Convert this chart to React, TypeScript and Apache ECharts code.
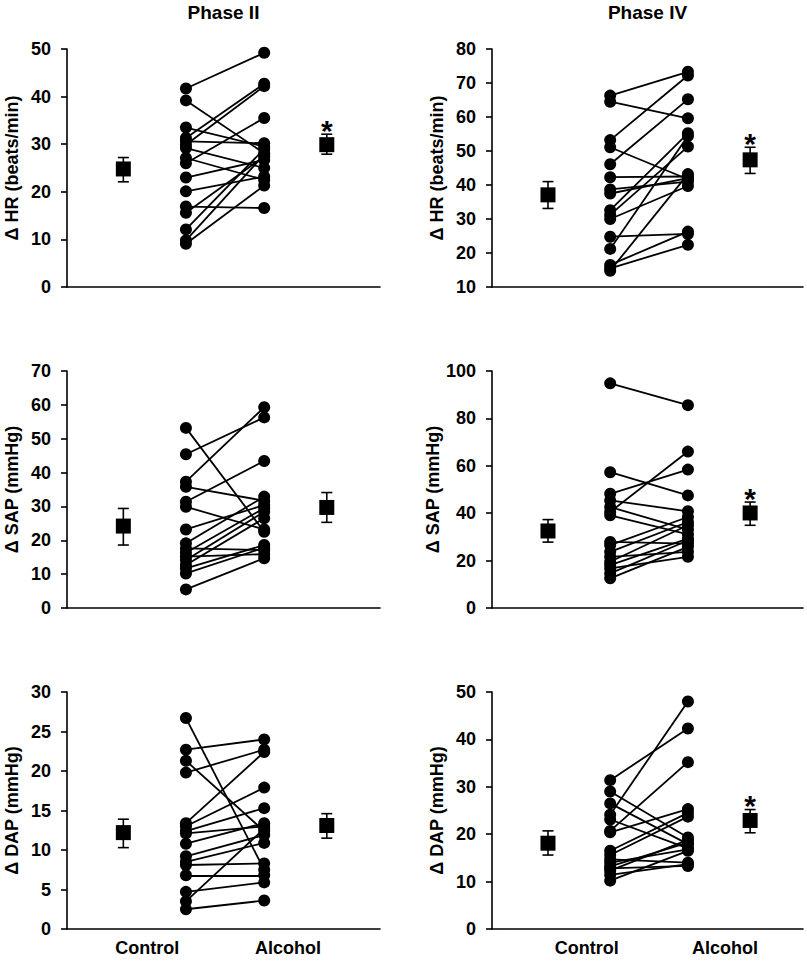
import React, { useEffect, useRef } from 'react';
import * as echarts from 'echarts';

// ---- Data (paired: control[i] -> alcohol[i]) ----
const hrP2Control = [41.7, 39.2, 33.5, 31.3, 30.6, 29.9, 29.2, 27.1, 26.0, 23.0, 20.1, 16.9, 15.6, 12.1, 9.8, 9.1];
const hrP2Alcohol = [49.2, 28.1, 29.5, 42.7, 30.2, 42.2, 25.0, 22.5, 35.5, 26.7, 23.2, 16.6, 27.4, 29.0, 27.8, 21.3];
const hrP4Control = [66.3, 64.5, 53.2, 51.1, 46.1, 42.3, 38.7, 37.5, 32.6, 31.2, 30.0, 24.8, 21.2, 16.5, 15.5, 14.8];
const hrP4Alcohol = [73.3, 59.6, 72.2, 41.7, 65.2, 42.5, 41.0, 42.0, 55.2, 51.3, 39.7, 25.6, 54.4, 26.3, 22.4, 43.2];
const sapP2Control = [53.2, 45.4, 37.3, 35.8, 31.4, 29.9, 23.2, 19.1, 17.6, 16.3, 15.2, 14.2, 12.7, 11.7, 10.2, 5.5];
const sapP2Alcohol = [22.5, 56.3, 59.3, 31.7, 43.4, 23.2, 30.4, 32.9, 17.1, 29.5, 15.9, 28.4, 26.5, 18.6, 17.8, 14.7];
const sapP4Control = [94.8, 57.3, 48.2, 45.4, 42.6, 40.5, 39.1, 27.9, 26.5, 23.7, 21.6, 19.5, 18.1, 16.7, 14.6, 12.5];
const sapP4Alcohol = [85.6, 47.5, 58.4, 40.8, 33.1, 66.0, 31.1, 27.2, 38.4, 36.3, 23.7, 34.9, 29.3, 21.6, 28.5, 25.8];
const dapP2Control = [26.7, 22.7, 21.3, 19.8, 13.4, 13.0, 12.4, 12.1, 10.8, 9.2, 8.5, 8.1, 6.8, 4.7, 3.5, 2.5];
const dapP2Alcohol = [7.5, 24.0, 12.4, 22.7, 22.4, 17.9, 15.3, 13.0, 13.4, 11.9, 10.9, 8.3, 6.8, 5.9, 12.7, 3.6];
const dapP4Control = [31.4, 29.0, 26.5, 24.1, 23.1, 20.7, 20.4, 16.5, 15.6, 14.7, 14.0, 13.2, 12.8, 12.3, 11.4, 10.2];
const dapP4Alcohol = [42.3, 19.3, 17.9, 48.0, 17.0, 35.2, 25.3, 24.5, 23.7, 14.0, 16.8, 18.2, 13.3, 18.8, 13.7, 16.5];

// mean, lower and upper error limits: [control, alcohol]
const hrP2Mean = [24.8, 29.9]; const hrP2Lo = [22.1, 27.9]; const hrP2Hi = [27.2, 32.1]; const hrP2Star = [false, true];
const hrP4Mean = [37.1, 47.4]; const hrP4Lo = [33.1, 43.4]; const hrP4Hi = [41.0, 51.1]; const hrP4Star = [false, true];
const sapP2Mean = [24.2, 29.7]; const sapP2Lo = [18.6, 25.3]; const sapP2Hi = [29.4, 34.1]; const sapP2Star = [false, false];
const sapP4Mean = [32.5, 40.1]; const sapP4Lo = [27.8, 34.9]; const sapP4Hi = [37.3, 44.7]; const sapP4Star = [false, true];
const dapP2Mean = [12.2, 13.1]; const dapP2Lo = [10.3, 11.5]; const dapP2Hi = [13.9, 14.6]; const dapP2Star = [false, false];
const dapP4Mean = [18.1, 22.9]; const dapP4Lo = [15.6, 20.3]; const dapP4Hi = [20.7, 25.2]; const dapP4Star = [false, true];

const titles = ['Phase II', 'Phase IV'];
const groupLabels = ['Control', 'Alcohol'];
const yNames = ['Δ HR (beats/min)', 'Δ SAP (mmHg)', 'Δ DAP (mmHg)'];

// ---- Layout ----
const X = { ctrlMean: 18, ctrl: 38, alc: 63, alcMean: 83 };
const FONT = 'Liberation Sans, Arial, Helvetica, sans-serif';
const grids = [
  { left: 67, top: 49, width: 313, height: 238 },
  { left: 492, top: 49, width: 311, height: 238 },
  { left: 67, top: 371, width: 313, height: 237 },
  { left: 492, top: 371, width: 311, height: 237 },
  { left: 67, top: 692, width: 313, height: 237 },
  { left: 492, top: 692, width: 311, height: 237 },
];
const labelX = [[25.6, 70.6], [30.5, 74.9]];

const panels = [
  { c: hrP2Control, a: hrP2Alcohol, m: hrP2Mean, lo: hrP2Lo, hi: hrP2Hi, s: hrP2Star, min: 0, max: 50, iv: 10, name: yNames[0] },
  { c: hrP4Control, a: hrP4Alcohol, m: hrP4Mean, lo: hrP4Lo, hi: hrP4Hi, s: hrP4Star, min: 10, max: 80, iv: 10, name: yNames[0] },
  { c: sapP2Control, a: sapP2Alcohol, m: sapP2Mean, lo: sapP2Lo, hi: sapP2Hi, s: sapP2Star, min: 0, max: 70, iv: 10, name: yNames[1] },
  { c: sapP4Control, a: sapP4Alcohol, m: sapP4Mean, lo: sapP4Lo, hi: sapP4Hi, s: sapP4Star, min: 0, max: 100, iv: 20, name: yNames[1] },
  { c: dapP2Control, a: dapP2Alcohol, m: dapP2Mean, lo: dapP2Lo, hi: dapP2Hi, s: dapP2Star, min: 0, max: 30, iv: 5, name: yNames[2] },
  { c: dapP4Control, a: dapP4Alcohol, m: dapP4Mean, lo: dapP4Lo, hi: dapP4Hi, s: dapP4Star, min: 0, max: 50, iv: 10, name: yNames[2] },
];

function buildOption() {
  const axisLine = { show: true, onZero: false, lineStyle: { color: '#000', width: 1.6 } };
  const xAxis: any[] = [];
  const yAxis: any[] = [];
  const series: any[] = [];
  panels.forEach((p, i) => {
    const col = i % 2;
    const bottom = i >= 4;
    xAxis.push({
      type: 'value', gridIndex: i, min: 0, max: 100,
      axisLine, axisTick: { show: false }, splitLine: { show: false },
      axisLabel: bottom
        ? {
            show: true, customValues: labelX[col], margin: 10,
            formatter: (v: number) => (v === labelX[col][0] ? groupLabels[0] : groupLabels[1]),
            color: '#000', fontSize: 18, fontWeight: 'bold', fontFamily: FONT,
          }
        : { show: false },
    });
    yAxis.push({
      type: 'value', gridIndex: i, min: p.min, max: p.max, interval: p.iv,
      axisLine, splitLine: { show: false },
      axisTick: { show: true, length: 6, lineStyle: { color: '#000', width: 1.6 } },
      axisLabel: { color: '#000', fontSize: 18, fontWeight: 'bold', fontFamily: FONT, margin: 16 },
      name: p.name, nameLocation: 'middle', nameRotate: 90, nameGap: 46,
      nameTextStyle: { color: '#000', fontSize: 18, fontWeight: 'bold', fontFamily: FONT },
    });
    series.push({
      type: 'lines', coordinateSystem: 'cartesian2d', xAxisIndex: i, yAxisIndex: i, z: 2,
      lineStyle: { color: '#000', width: 1.8, opacity: 1 },
      data: p.c.map((v, k) => ({ coords: [[X.ctrl, v], [X.alc, p.a[k]]] })),
      silent: true,
    });
    series.push({
      type: 'scatter', xAxisIndex: i, yAxisIndex: i, z: 3, symbol: 'circle', symbolSize: 12,
      itemStyle: { color: '#000', opacity: 1 },
      data: [...p.c.map((v) => [X.ctrl, v]), ...p.a.map((v) => [X.alc, v])],
    });
    series.push({
      type: 'custom', xAxisIndex: i, yAxisIndex: i, z: 4,
      data: [
        [X.ctrlMean, p.m[0], p.lo[0], p.hi[0], p.s[0] ? 1 : 0],
        [X.alcMean, p.m[1], p.lo[1], p.hi[1], p.s[1] ? 1 : 0],
      ],
      renderItem: (params: any, api: any) => {
        const x = api.value(0);
        const c = api.coord([x, api.value(1)]);
        const pl = api.coord([x, api.value(2)]);
        const ph = api.coord([x, api.value(3)]);
        const star = api.value(4);
        const ls = { stroke: '#000', lineWidth: 1.6 };
        const cap = 5.5;
        const children: any[] = [
          { type: 'line', shape: { x1: c[0], y1: pl[1], x2: c[0], y2: ph[1] }, style: ls },
          { type: 'line', shape: { x1: c[0] - cap, y1: pl[1], x2: c[0] + cap, y2: pl[1] }, style: ls },
          { type: 'line', shape: { x1: c[0] - cap, y1: ph[1], x2: c[0] + cap, y2: ph[1] }, style: ls },
          { type: 'rect', shape: { x: c[0] - 7.5, y: c[1] - 7.5, width: 15, height: 15 }, style: { fill: '#000' } },
        ];
        if (star) {
          children.push({
            type: 'text',
            style: {
              text: '*', x: c[0], y: ph[1] - 4, align: 'center', verticalAlign: 'middle',
              font: `bold 30px ${FONT}`, fill: '#000',
            },
          });
        }
        return { type: 'group', children };
      },
    });
  });

  const graphic = titles.map((t, k) => ({
    type: 'text',
    x: grids[k].left + grids[k].width / 2,
    y: 12,
    style: { text: t, align: 'center', verticalAlign: 'middle', font: `bold 19px ${FONT}`, fill: '#000' },
  }));

  return {
    animation: false,
    backgroundColor: '#fff',
    grid: grids,
    xAxis, yAxis, series, graphic,
  };
}

export default function App() {
  const ref = useRef<HTMLDivElement>(null);
  useEffect(() => {
    document.body.style.margin = '0';
    const chart = echarts.init(ref.current!, null, { renderer: 'svg' });
    chart.setOption(buildOption() as any);
    return () => chart.dispose();
  }, []);
  return <div ref={ref} style={{ width: 807, height: 965 }} />;
}
